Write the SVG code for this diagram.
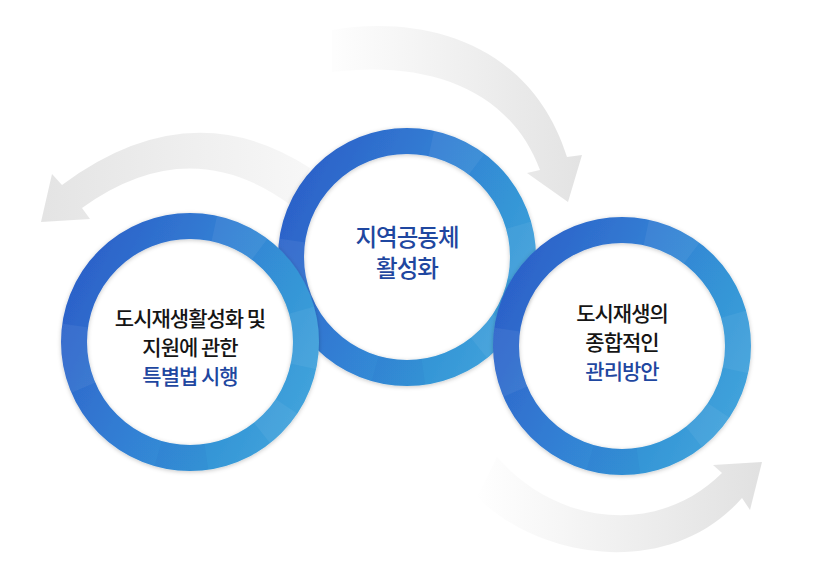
<svg xmlns="http://www.w3.org/2000/svg" xmlns:xlink="http://www.w3.org/1999/xlink" width="814" height="569" viewBox="0 0 814 569">
<style>
.t{font-family:"Noto Sans CJK KR","Noto Sans",sans-serif;font-size:21px;text-anchor:middle;letter-spacing:-1px;fill:#151515;font-weight:500}
.b{fill:#1f47a0}
.m{font-size:23.5px;letter-spacing:-1px;font-weight:500}
.facet{fill:#ffffff;opacity:0.06}
.facetd{fill:#1a3fa8;opacity:0.05}
</style>
<defs>
<linearGradient id="ringGrad" x1="0" y1="0.25" x2="1" y2="0.75">
<stop offset="0" stop-color="#2c62c9"/>
<stop offset="0.45" stop-color="#3380d4"/>
<stop offset="0.75" stop-color="#3495d6"/>
<stop offset="1" stop-color="#40a2db"/>
</linearGradient>
<linearGradient id="a1" gradientUnits="userSpaceOnUse" x1="45" y1="0" x2="305" y2="0">
<stop offset="0" stop-color="#e4e4e4"/><stop offset="1" stop-color="#f7f7f7"/>
</linearGradient>
<linearGradient id="a2" gradientUnits="userSpaceOnUse" x1="335" y1="0" x2="580" y2="0">
<stop offset="0" stop-color="#fdfdfd"/><stop offset="1" stop-color="#e3e3e3"/>
</linearGradient>
<linearGradient id="a3" gradientUnits="userSpaceOnUse" x1="475" y1="0" x2="760" y2="0">
<stop offset="0" stop-color="#ffffff"/><stop offset="1" stop-color="#e1e1e1"/>
</linearGradient>
<clipPath id="ringClip"><path clip-rule="evenodd" d="M-129 0a129 129 0 1 0 258 0a129 129 0 1 0 -258 0ZM-103 0a103 103 0 1 0 206 0a103 103 0 1 0 -206 0Z"/></clipPath>
<filter id="sh" x="-20%" y="-20%" width="140%" height="140%"><feDropShadow dx="0" dy="1" stdDeviation="2" flood-color="#000" flood-opacity="0.22"/></filter>
<g id="ring">
<circle r="116" fill="none" stroke="url(#ringGrad)" stroke-width="26" filter="url(#sh)"/>
<g clip-path="url(#ringClip)">
<path class="facet" d="M0 0L30 -140L90 -120Z"/>
<path class="facet" d="M0 0L140 -40L140 30Z"/>
<path class="facet" d="M0 0L120 80L95 120Z"/>
<path class="facetd" d="M0 0L20 140L-40 140Z"/>
<path class="facet" d="M0 0L-140 60L-140 -20Z"/>
</g>
</g>
</defs>
<g id="connectors">
<path id="arrow-left" fill="url(#a1)" d="M310 168Q190 90 62 185L52 174L41 222L90 219L82 208Q190 130 292 206Z"/>
<path id="arrow-top" fill="url(#a2)" d="M332 30C420 15 530 40 567 157L582 155L568 202L527 173L540 170C510 90 430 60 332 72Z"/>
<path id="arrow-bottom" fill="url(#a3)" d="M477 497C540 560 670 580 742 498L750 510L762 462L713 465L722 473C660 535 560 528 497 457Z"/>
</g>
<g id="node-middle" transform="translate(407,257)">
<use xlink:href="#ring"/>
<text class="t b m" x="0" y="-11">지역공동체</text>
<text class="t b m" x="0" y="20">활성화</text>
</g>
<g id="node-left" transform="translate(190,342)">
<use xlink:href="#ring"/>
<text class="t" x="0" y="-16">도시재생활성화 및</text>
<text class="t" x="0" y="13">지원에 관한</text>
<text class="t b" x="0" y="42">특별법 시행</text>
</g>
<g id="node-right" transform="translate(622,346)">
<use xlink:href="#ring"/>
<text class="t" x="0" y="-25">도시재생의</text>
<text class="t" x="0" y="4">종합적인</text>
<text class="t b" x="0" y="33">관리방안</text>
</g>
</svg>
